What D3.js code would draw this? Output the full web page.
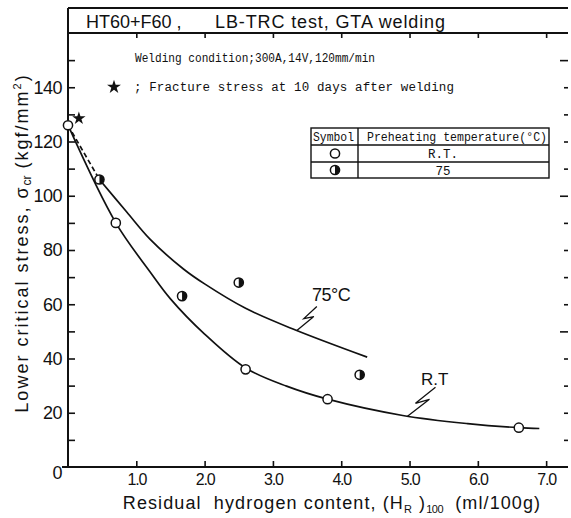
<!DOCTYPE html>
<html>
<head>
<meta charset="utf-8">
<script src="https://cdn.jsdelivr.net/npm/d3@7/dist/d3.min.js"></script>
<style>
  html, body { margin: 0; padding: 0; background: #fff; }
  svg { display: block; }
  text { fill: #111; }
  .sans { font-family: "Liberation Sans", Arial, sans-serif; }
  .mono { font-family: "Liberation Mono", "DejaVu Sans Mono", monospace; }
</style>
</head>
<body>
<svg id="chart" width="571" height="518"></svg>
<script>
// Measured points: preheating at room temperature (open circles)
const rtHydrogen = [0, 0.7, 2.6, 3.8, 6.6];
const rtStress   = [126, 90, 36, 25, 14.5];

// Measured points: preheating at 75 °C (half-filled circles)
const ph75Hydrogen = [0.46, 1.67, 2.5, 4.27];
const ph75Stress   = [106, 63, 68, 34];

// Fracture stress 10 days after welding (star)
const starHydrogen = [0.13];
const starStress   = [128.5];

// Hand-fitted trend curve, R.T.
const rtCurveHydrogen = [0, 0.7, 1.2, 1.5, 2.0, 2.6, 3.2, 3.8, 4.9, 5.85, 6.6, 6.9];
const rtCurveStress   = [126, 90, 72, 62, 49, 36.5, 29.8, 25, 19, 16, 14.5, 14.2];

// Hand-fitted trend curve, 75 °C (dashed lead-in, then solid)
const ph75DashHydrogen = [0, 0.46];
const ph75DashStress   = [126, 106];
const ph75CurveHydrogen = [0.46, 0.86, 1.2, 1.69, 2.0, 2.6, 3.33, 4.38];
const ph75CurveStress   = [106, 94, 84, 73, 67.5, 58.5, 50.5, 40.5];

// Axis ticks
const xTickLabels = [1, 2, 3, 4, 5, 6, 7];
const yTickLabels = [0, 20, 40, 60, 80, 100, 120, 140];
const yTicks      = [10, 20, 30, 40, 50, 60, 70, 80, 90, 100, 110, 120, 130, 140, 150];

const svg = d3.select("#chart");

const x = d3.scaleLinear().domain([0, 7.32]).range([68, 568]);
const y = d3.scaleLinear().domain([0, 160]).range([467, 33]);

const frame = svg.append("g").attr("stroke", "#111").attr("stroke-width", 2).attr("fill", "none");
// title box and plot frame
frame.append("line").attr("x1", 68).attr("x2", 568).attr("y1", 8).attr("y2", 8);
frame.append("line").attr("x1", 68).attr("x2", 568).attr("y1", y(160)).attr("y2", y(160));
frame.append("line").attr("x1", 68).attr("x2", 68).attr("y1", 8).attr("y2", y(0));
frame.append("line").attr("x1", 62).attr("x2", 568).attr("y1", y(0)).attr("y2", y(0));

svg.append("text").attr("class", "sans").attr("x", 86).attr("y", 28)
  .attr("font-size", 18).text("HT60+F60 ,");
svg.append("text").attr("class", "sans").attr("x", 215).attr("y", 28)
  .attr("font-size", 18).attr("textLength", 230).text("LB-TRC test, GTA welding");

// axes
function styleAxis(g) {
  g.select(".domain").remove();
  g.selectAll(".tick line").attr("stroke", "#111").attr("stroke-width", 1.6);
}

// left: inward ticks
svg.append("g").attr("transform", `translate(${x(0)},0)`)
  .call(d3.axisRight(y).tickValues(yTicks).tickSize(7).tickFormat(""))
  .call(styleAxis);
// left labels
svg.append("g").attr("transform", `translate(${x(0)},0)`)
  .call(d3.axisLeft(y).tickValues(yTickLabels).tickSize(0).tickPadding(6).tickFormat(d3.format("d")))
  .call(g => {
    g.select(".domain").remove();
    g.selectAll("text").attr("font-size", 18).attr("fill", "#111").attr("letter-spacing", -0.5)
      .attr("font-family", "Liberation Sans, Arial, sans-serif");
    g.selectAll(".tick").filter(d => d === 0).select("text").attr("dy", "0.62em");
  });

// right: short inward ticks, longer every 50
svg.append("g").attr("transform", `translate(568,0)`)
  .call(d3.axisLeft(y).tickValues(yTicks).tickSize(4).tickFormat(""))
  .call(styleAxis)
  .call(g => g.selectAll(".tick").filter(d => d % 50 === 0).select("line").attr("x2", -8));

// bottom: inward ticks + labels
svg.append("g").attr("transform", `translate(0,${y(0)})`)
  .call(d3.axisTop(x).tickValues(xTickLabels).tickSize(6).tickFormat(""))
  .call(styleAxis);
svg.append("g").attr("transform", `translate(0,${y(0)})`)
  .call(d3.axisBottom(x).tickValues(xTickLabels).tickSize(0).tickPadding(7).tickFormat(d3.format(".1f")))
  .call(g => {
    g.select(".domain").remove();
    g.selectAll("text").attr("font-size", 16).attr("fill", "#111").attr("letter-spacing", -1.2)
      .attr("font-family", "Liberation Sans, Arial, sans-serif");
  });

// top: inward ticks
svg.append("g").attr("transform", `translate(0,${y(160)})`)
  .call(d3.axisBottom(x).tickValues(xTickLabels).tickSize(5).tickFormat(""))
  .call(styleAxis);

// axis titles
const xt = svg.append("text").attr("class", "sans").attr("x", 332).attr("y", 509)
  .attr("text-anchor", "middle").attr("font-size", 18).attr("letter-spacing", 1.1)
  .style("white-space", "pre");
xt.append("tspan").text("Residual  hydrogen content, (H");
xt.append("tspan").attr("font-size", 11).attr("dy", 4).text("R");
xt.append("tspan").attr("dy", -4).text(" )");
xt.append("tspan").attr("font-size", 11).attr("dy", 4).attr("letter-spacing", -0.5).text("100");
xt.append("tspan").attr("dy", -4).text("  (ml/100g)");

const yt = svg.append("text").attr("class", "sans")
  .attr("transform", "translate(28,243) rotate(-90)")
  .attr("text-anchor", "middle").attr("font-size", 18).attr("letter-spacing", 2)
  .style("white-space", "pre");
yt.append("tspan").text("Lower critical stress, σ");
yt.append("tspan").attr("font-size", 12).attr("dy", 3).attr("letter-spacing", 0).text("cr");
yt.append("tspan").attr("dy", -3).text(" (kgf/mm");
yt.append("tspan").attr("font-size", 11).attr("dy", -7).text("2");
yt.append("tspan").attr("dy", 7).text(")");

// notes
svg.append("text").attr("class", "mono").attr("x", 135).attr("y", 62)
  .attr("font-size", 12.5).attr("textLength", 240).attr("lengthAdjust", "spacingAndGlyphs")
  .text("Welding condition;300A,14V,120mm/min");
svg.append("path")
  .attr("d", d3.symbol(d3.symbolStar, 60)())
  .attr("transform", "translate(114,87)").attr("fill", "#111");
svg.append("text").attr("class", "mono").attr("x", 134).attr("y", 91)
  .attr("font-size", 12.5).attr("textLength", 320).text("; Fracture stress at 10 days after welding");

// legend table
const tb = svg.append("g").attr("stroke", "#111").attr("stroke-width", 1.4).attr("fill", "none");
tb.append("rect").attr("x", 311).attr("y", 128).attr("width", 238).attr("height", 50);
tb.append("line").attr("x1", 311).attr("x2", 549).attr("y1", 145).attr("y2", 145);
tb.append("line").attr("x1", 311).attr("x2", 549).attr("y1", 162).attr("y2", 162);
tb.append("line").attr("x1", 358).attr("x2", 358).attr("y1", 128).attr("y2", 178);
svg.append("text").attr("class", "mono").attr("x", 313).attr("y", 141)
  .attr("font-size", 12.5).attr("textLength", 41).attr("lengthAdjust", "spacingAndGlyphs").text("Symbol");
svg.append("text").attr("class", "mono").attr("x", 367).attr("y", 141)
  .attr("font-size", 12.5).attr("textLength", 180).attr("lengthAdjust", "spacingAndGlyphs")
  .text("Preheating temperature(°C)");
svg.append("text").attr("class", "mono").attr("x", 443).attr("y", 158)
  .attr("font-size", 12.5).attr("text-anchor", "middle").text("R.T.");
svg.append("text").attr("class", "mono").attr("x", 443).attr("y", 175)
  .attr("font-size", 12.5).attr("text-anchor", "middle").text("75");

// curves
const line = d3.line().x(d => x(d[0])).y(d => y(d[1])).curve(d3.curveCatmullRom.alpha(0.5));
const curves = svg.append("g").attr("fill", "none").attr("stroke", "#111").attr("stroke-width", 1.7);
curves.append("path").attr("d", line(d3.zip(rtCurveHydrogen, rtCurveStress)));
curves.append("path").attr("d", line(d3.zip(ph75CurveHydrogen, ph75CurveStress)));
curves.append("path").attr("d", d3.line().x(d => x(d[0])).y(d => y(d[1]))(d3.zip(ph75DashHydrogen, ph75DashStress)))
  .attr("stroke-dasharray", "5,3");

// curve call-outs
function callout(p0, a, b, e) {
  curves.append("path").attr("stroke-width", 1.3)
    .attr("d", d3.line()([p0, a, b, e]));
}
const p75 = [x(3.35), y(50.3)];
callout(p75, [p75[0] + 17, p75[1] - 14], [p75[0] + 7, p75[1] - 12], [p75[0] + 20, p75[1] - 24]);
const pRT = [x(4.97), y(18.7)];
callout(pRT, [pRT[0] + 22, pRT[1] - 17], [pRT[0] + 8, pRT[1] - 13], [pRT[0] + 28, pRT[1] - 29]);
svg.append("text").attr("class", "sans").attr("x", 312).attr("y", 301)
  .attr("font-size", 18).attr("letter-spacing", -0.5).text("75°C");
svg.append("text").attr("class", "sans").attr("x", 421).attr("y", 385)
  .attr("font-size", 17).text("R.T");

// markers
const r = 4.6;
function openCircle(g, cx, cy) {
  g.append("circle").attr("cx", cx).attr("cy", cy).attr("r", r)
    .attr("fill", "#fff").attr("stroke", "#111").attr("stroke-width", 1.5);
}
function halfCircle(g, cx, cy) {
  openCircle(g, cx, cy);
  g.append("path").attr("fill", "#111")
    .attr("d", `M${cx},${cy - r}A${r},${r} 0 0 1 ${cx},${cy + r}Z`);
}
const marks = svg.append("g");
d3.zip(rtHydrogen, rtStress).forEach(d => openCircle(marks, x(d[0]), y(d[1])));
d3.zip(ph75Hydrogen, ph75Stress).forEach(d => halfCircle(marks, x(d[0]), y(d[1])));
d3.zip(starHydrogen, starStress).forEach(d => {
  marks.append("path").attr("d", d3.symbol(d3.symbolStar, 55)())
    .attr("transform", `translate(${x(d[0]) + 2},${y(d[1])})`).attr("fill", "#111");
});
openCircle(marks, 335, 153.5);
halfCircle(marks, 335, 170);
</script>
</body>
</html>
